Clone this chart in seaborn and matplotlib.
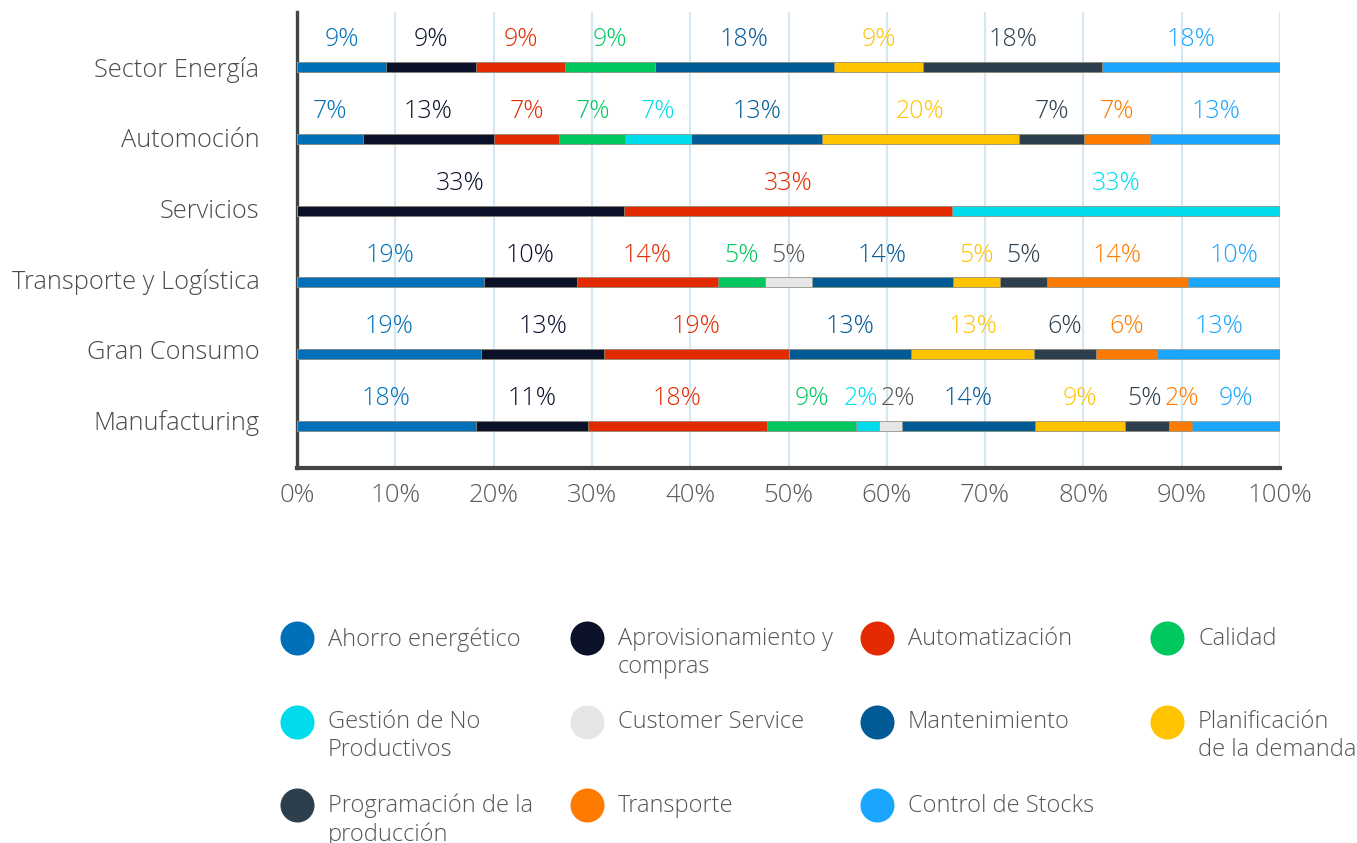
import numpy as np
import pandas as pd
import seaborn as sns
import matplotlib.pyplot as plt

# categories (top to bottom) and topics (stacking order)
sectors = ['Sector Energía', 'Automoción', 'Servicios', 'Transporte y Logística',
           'Gran Consumo', 'Manufacturing']
topics = ['Ahorro energético', 'Aprovisionamiento y compras', 'Automatización', 'Calidad',
          'Gestión de No Productivos', 'Customer Service', 'Mantenimiento',
          'Planificación de la demanda', 'Programación de la producción', 'Transporte',
          'Control de Stocks']
legend_labels = ['Ahorro energético', 'Aprovisionamiento y\ncompras', 'Automatización', 'Calidad',
                 'Gestión de No\nProductivos', 'Customer Service', 'Mantenimiento',
                 'Planificación\nde la demanda', 'Programación de la\nproducción', 'Transporte',
                 'Control de Stocks']
colors = ['#0070b8', '#0a1128', '#e32a00', '#00c85f', '#00dcec', '#e6e6e6', '#005a96',
          '#ffc300', '#2d3e4d', '#ff7b00', '#1aa5ff']
label_colors = colors.copy()
label_colors[5] = '#555555'

# share (%) per sector, one list per topic, in sector order
ahorro      = [9.1, 6.7, 0.0, 19.0, 18.75, 18.2]
aprov       = [9.1, 13.3, 33.3, 9.5, 12.5, 11.4]
automat     = [9.1, 6.7, 33.3, 14.3, 18.75, 18.2]
calidad     = [9.1, 6.7, 0.0, 4.8, 0.0, 9.1]
gestion_np  = [0.0, 6.7, 33.4, 0.0, 0.0, 2.3]
customer    = [0.0, 0.0, 0.0, 4.8, 0.0, 2.3]
manten      = [18.2, 13.3, 0.0, 14.3, 12.5, 13.6]
planif      = [9.1, 20.0, 0.0, 4.8, 12.5, 9.1]
program     = [18.2, 6.7, 0.0, 4.8, 6.25, 4.5]
transporte  = [0.0, 6.7, 0.0, 14.3, 6.25, 2.3]
control     = [18.1, 13.3, 0.0, 9.5, 12.5, 9.1]

df = pd.DataFrame([ahorro, aprov, automat, calidad, gestion_np, customer, manten,
                   planif, program, transporte, control], index=topics, columns=sectors).T
cum = df.cumsum(axis=1)
left = cum - df

sns.set_theme(style='white')
plt.rcParams['font.family'] = ['Open Sans', 'DejaVu Sans']
FONT_W = 'light'

fig = plt.figure(figsize=(13.57, 8.43), dpi=100)
ax = fig.add_axes([297 / 1357, 1 - 468 / 843, 983 / 1357, 456 / 843])

# stacked bars: draw cumulative totals from last topic to first
for k in range(len(topics) - 1, -1, -1):
    t = topics[k]
    sns.barplot(x=cum[t].values, y=sectors, orient='h', color=colors[k], width=0.14,
                edgecolor='#9a9a8a', linewidth=0.5, saturation=1, ax=ax, zorder=3)

# percentage labels above each segment, nudged apart when they would collide
px = 100 / 983  # data units per pixel
for i, s in enumerate(sectors):
    labs = []
    for k, t in enumerate(topics):
        v = df.loc[s, t]
        if v <= 0:
            continue
        txt = f'{int(np.floor(v + 0.5))}%'
        labs.append([left.loc[s, t] + v / 2, txt, k, len(txt) * 17 * px / 2])
    for j in range(1, len(labs)):
        need = labs[j - 1][3] + labs[j][3] + 3 * px
        gap = labs[j][0] - labs[j - 1][0]
        if gap < need:
            shift = (need - gap) / 2
            labs[j - 1][0] -= shift
            labs[j][0] += shift
    for xc, txt, k, _ in labs:
        ax.text(xc, i - 0.38, txt, ha='center', va='center', fontsize=18,
                color=label_colors[k], fontweight=FONT_W, zorder=4)

ax.set_xlim(0, 100)
ax.set_ylim(5.585, -0.766)
ax.set_xticks(np.arange(0, 101, 10))
ax.set_xticklabels([f'{x}%' for x in range(0, 101, 10)], fontsize=18.5, color='#5a5a5a',
                   fontweight=FONT_W)
ax.set_yticks([i * 0.983 for i in range(len(sectors))])
ax.set_yticklabels(sectors, fontsize=18.3, color='#4a4a4a', fontweight=FONT_W)
ax.tick_params(axis='y', length=0, pad=27)
ax.tick_params(axis='x', length=0, pad=11)
ax.set_xlabel('')
ax.set_ylabel('')
ax.xaxis.grid(True, color='#d6e7f1', linewidth=1.6, zorder=0)
ax.yaxis.grid(False)
ax.set_axisbelow(True)
for side in ['top', 'right']:
    ax.spines[side].set_visible(False)
ax.spines['left'].set_color('#444444')
ax.spines['left'].set_linewidth(2.4)
ax.spines['bottom'].set_color('#444444')
ax.spines['bottom'].set_linewidth(3)

# legend in its own pixel-space axes
lax = fig.add_axes([0, 0, 1, 1])
lax.set_xlim(0, 1357)
lax.set_ylim(843, 0)
lax.axis('off')
for k, lab in enumerate(legend_labels):
    c, r = k % 4, k // 4
    x0 = 297 + 290 * c
    y0 = 638 + 83.5 * r
    lax.scatter([x0], [y0], s=600, color=colors[k], linewidths=0)
    lax.text(x0 + 31, y0 - 11, lab, ha='left', va='top', fontsize=17, color='#555555',
             fontweight=FONT_W, linespacing=1.22)

fig.savefig('out.png', dpi=100)
